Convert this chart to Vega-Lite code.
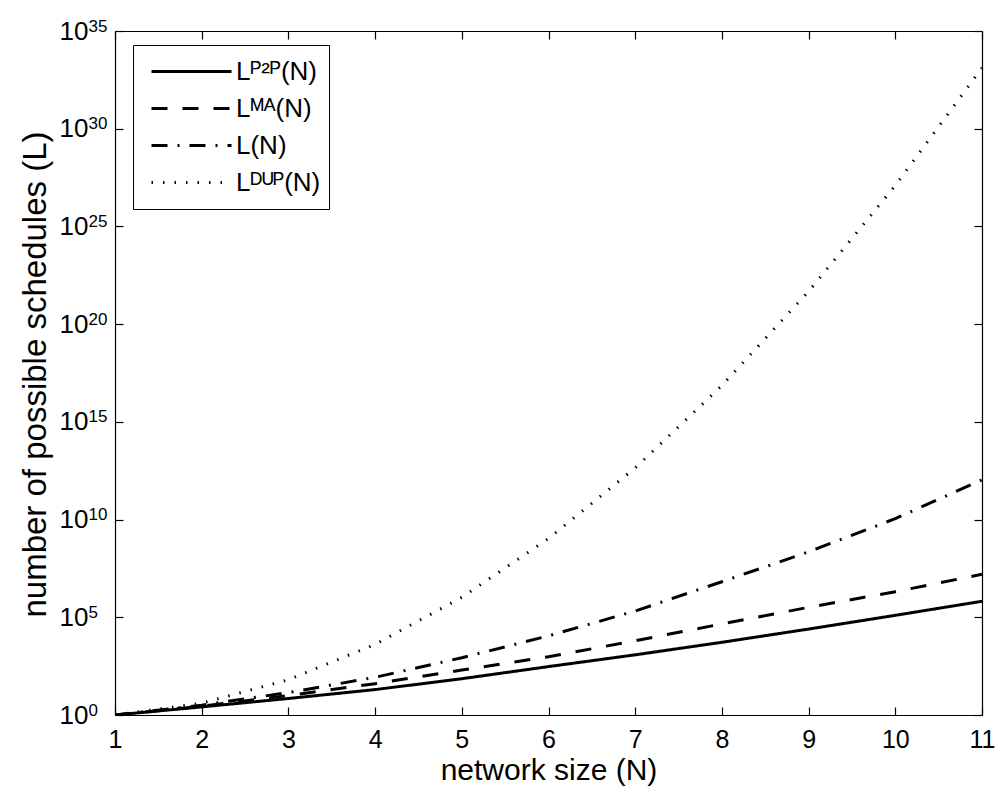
{
  "$schema": "https://vega.github.io/schema/vega-lite/v6.json",
  "width": 867,
  "height": 684,
  "autosize": {"type": "none"},
  "padding": {"left": 115, "top": 31, "right": 17, "bottom": 77},
  "background": "white",
  "config": {
    "font": "Liberation Sans",
    "view": {"stroke": null},
    "axis": {
      "grid": false,
      "domainColor": "black",
      "domainWidth": 1.2,
      "tickColor": "black",
      "tickWidth": 1.2,
      "tickSize": -8,
      "labelColor": "black",
      "labelFont": "Liberation Sans",
      "titleColor": "black",
      "titleFont": "Liberation Sans",
      "titleFontWeight": "normal"
    },
    "legend": {
      "labelFont": "Liberation Sans"
    }
  },
  "data": {
    "values": [
      {"N": 1, "L": 1, "series": "Lᴾ²ᴾ(N)"},
      {"N": 2, "L": 2.6, "series": "Lᴾ²ᴾ(N)"},
      {"N": 3, "L": 7, "series": "Lᴾ²ᴾ(N)"},
      {"N": 4, "L": 20, "series": "Lᴾ²ᴾ(N)"},
      {"N": 5, "L": 72, "series": "Lᴾ²ᴾ(N)"},
      {"N": 6, "L": 300, "series": "Lᴾ²ᴾ(N)"},
      {"N": 7, "L": 1200, "series": "Lᴾ²ᴾ(N)"},
      {"N": 8, "L": 5250, "series": "Lᴾ²ᴾ(N)"},
      {"N": 9, "L": 25000, "series": "Lᴾ²ᴾ(N)"},
      {"N": 10, "L": 126000, "series": "Lᴾ²ᴾ(N)"},
      {"N": 11, "L": 660000, "series": "Lᴾ²ᴾ(N)"},
      {"N": 1, "L": 1, "series": "Lᴹᴬ(N)"},
      {"N": 2, "L": 2.8, "series": "Lᴹᴬ(N)"},
      {"N": 3, "L": 10, "series": "Lᴹᴬ(N)"},
      {"N": 4, "L": 40, "series": "Lᴹᴬ(N)"},
      {"N": 5, "L": 200, "series": "Lᴹᴬ(N)"},
      {"N": 6, "L": 950, "series": "Lᴹᴬ(N)"},
      {"N": 7, "L": 6300, "series": "Lᴹᴬ(N)"},
      {"N": 8, "L": 45700, "series": "Lᴹᴬ(N)"},
      {"N": 9, "L": 324000, "series": "Lᴹᴬ(N)"},
      {"N": 10, "L": 2040000, "series": "Lᴹᴬ(N)"},
      {"N": 11, "L": 15800000, "series": "Lᴹᴬ(N)"},
      {"N": 1, "L": 1, "series": "L(N)"},
      {"N": 2, "L": 3.2, "series": "L(N)"},
      {"N": 3, "L": 14, "series": "L(N)"},
      {"N": 4, "L": 85, "series": "L(N)"},
      {"N": 5, "L": 850, "series": "L(N)"},
      {"N": 6, "L": 11200, "series": "L(N)"},
      {"N": 7, "L": 209000, "series": "L(N)"},
      {"N": 8, "L": 6600000, "series": "L(N)"},
      {"N": 9, "L": 224000000, "series": "L(N)"},
      {"N": 10, "L": 11200000000, "series": "L(N)"},
      {"N": 11, "L": 1070000000000, "series": "L(N)"},
      {"N": 1, "L": 1, "series": "Lᴰᵁᴾ(N)"},
      {"N": 2, "L": 4, "series": "Lᴰᵁᴾ(N)"},
      {"N": 3, "L": 64, "series": "Lᴰᵁᴾ(N)"},
      {"N": 4, "L": 4096, "series": "Lᴰᵁᴾ(N)"},
      {"N": 5, "L": 1048576, "series": "Lᴰᵁᴾ(N)"},
      {"N": 6, "L": 1073741824, "series": "Lᴰᵁᴾ(N)"},
      {"N": 7, "L": 4398046511104, "series": "Lᴰᵁᴾ(N)"},
      {"N": 8, "L": 7.2057594e16, "series": "Lᴰᵁᴾ(N)"},
      {"N": 9, "L": 4.7223665e21, "series": "Lᴰᵁᴾ(N)"},
      {"N": 10, "L": 1.2379400e27, "series": "Lᴰᵁᴾ(N)"},
      {"N": 11, "L": 1.2980742e33, "series": "Lᴰᵁᴾ(N)"}
    ]
  },
  "layer": [
    {
      "mark": {"type": "line", "color": "black", "strokeCap": "butt", "clip": true},
      "encoding": {
        "x": {
          "field": "N",
          "type": "quantitative",
          "scale": {"domain": [1, 11], "nice": false, "zero": false},
          "axis": {
            "orient": "bottom",
            "values": [1, 2, 3, 4, 5, 6, 7, 8, 9, 10, 11],
            "labelFontSize": 25,
            "labelPadding": 20,
            "labelFlush": false,
            "title": "network size (N)",
            "titleFontSize": 30,
            "titleX": 433.5,
            "titleY": 64,
            "titleBaseline": "alphabetic"
          }
        },
        "y": {
          "field": "L",
          "type": "quantitative",
          "scale": {"type": "log", "domain": [1, 1e35], "nice": false},
          "axis": {
            "orient": "left",
            "values": [1, 1e5, 1e10, 1e15, 1e20, 1e25, 1e30, 1e35],
            "labelExpr": "'10'",
            "labelFontSize": 26,
            "labelPadding": 35,
            "labelFlush": false,
            "title": "number of possible schedules (L)",
            "titleFontSize": 33,
            "titleX": -70,
            "titleY": 343,
            "titleBaseline": "alphabetic"
          }
        },
        "strokeDash": {
          "field": "series",
          "type": "nominal",
          "scale": {
            "domain": ["Lᴾ²ᴾ(N)", "Lᴹᴬ(N)", "L(N)", "Lᴰᵁᴾ(N)"],
            "range": [[1, 0], [16, 15], [16, 10, 2, 10], [1.5, 10]]
          },
          "legend": {
            "title": null,
            "orient": "none",
            "legendX": 18,
            "legendY": 14,
            "symbolType": "stroke",
            "symbolSize": 6400,
            "symbolStrokeColor": "black",
            "symbolStrokeWidth": 3,
            "clipHeight": 37,
            "labelFontSize": 26,
            "labelColor": "black",
            "labelOffset": 3,
            "symbolOffset": 9,
            "padding": 8,
            "rowPadding": 0,
            "strokeColor": "black",
            "fillColor": "white"
          }
        },
        "strokeWidth": {
          "field": "series",
          "type": "nominal",
          "scale": {
            "domain": ["Lᴾ²ᴾ(N)", "Lᴹᴬ(N)", "L(N)", "Lᴰᵁᴾ(N)"],
            "range": [3, 3, 3, 1.3]
          },
          "legend": null
        }
      }
    },
    {
      "mark": {"type": "point", "opacity": 0},
      "encoding": {
        "x": {
          "field": "N",
          "type": "quantitative",
          "axis": {"orient": "top", "values": [1, 2, 3, 4, 5, 6, 7, 8, 9, 10, 11], "labels": false, "title": null}
        },
        "y": {
          "field": "L",
          "type": "quantitative",
          "axis": {"orient": "right", "values": [1, 1e5, 1e10, 1e15, 1e20, 1e25, 1e30, 1e35], "labels": false, "title": null}
        }
      }
    },
    {
      "mark": {"type": "point", "opacity": 0},
      "encoding": {
        "y": {
          "field": "L",
          "type": "quantitative",
          "axis": {
            "orient": "left",
            "values": [1, 1e5, 1e10, 1e15, 1e20, 1e25, 1e30, 1e35],
            "labelExpr": "format(round(log(datum.value) / LN10), 'd')",
            "labelFontSize": 17,
            "labelAlign": "left",
            "labelBaseline": "alphabetic",
            "labelPadding": 27,
            "labelDy": 1,
            "labelFlush": false,
            "ticks": false,
            "domain": false,
            "title": null
          }
        }
      }
    }
  ],
  "resolve": {"axis": {"x": "independent", "y": "independent"}}
}
